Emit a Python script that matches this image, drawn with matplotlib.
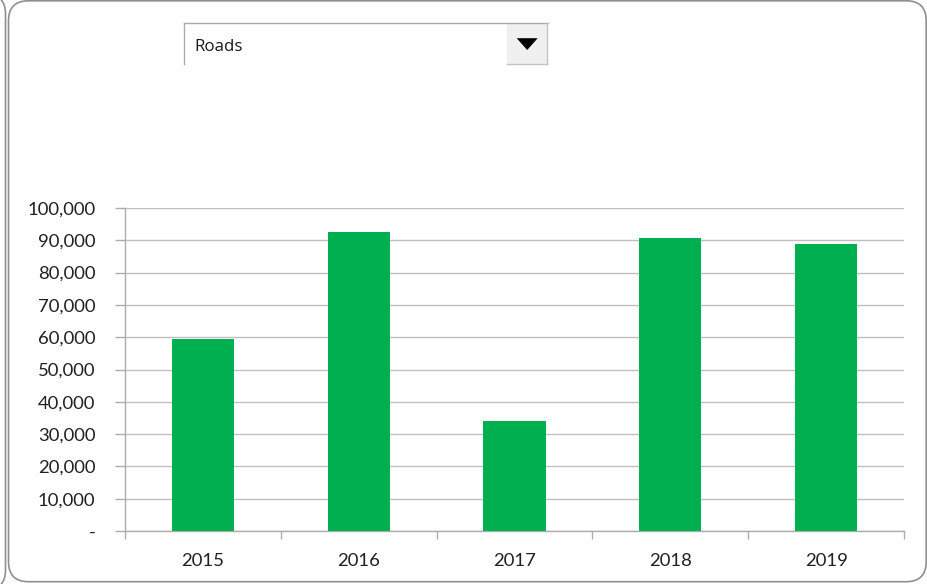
import matplotlib
matplotlib.use("Agg")
import matplotlib.pyplot as plt
from matplotlib.patches import FancyBboxPatch, Rectangle, Polygon
from matplotlib.ticker import FuncFormatter, FixedLocator, NullLocator

# Data
years = ["2015", "2016", "2017", "2018", "2019"]
values = [59500, 92700, 34000, 90800, 88800]
selected_category = "Roads"

W, H = 927, 584
fig = plt.figure(figsize=(W / 100, H / 100), dpi=100)
fig.patch.set_facecolor("white")

# Background layer in pixel coordinates for the frame and the dropdown control
bg = fig.add_axes([0, 0, 1, 1])
bg.set_xlim(0, W)
bg.set_ylim(H, 0)
bg.axis("off")

frame_col = "#8F8F8F"
# Edge of the neighbouring panel on the far left
bg.add_patch(FancyBboxPatch((-120, -6), 125.5, 596,
                            boxstyle="round,pad=0,rounding_size=20",
                            fill=False, ec=frame_col, lw=1.2))
# Main panel frame
bg.add_patch(FancyBboxPatch((8.5, 0.8), 917.7, 580.9,
                            boxstyle="round,pad=0,rounding_size=20",
                            fill=False, ec=frame_col, lw=1.2))

# Dropdown control
line_col = "#ABABAB"
bg.plot([184.5, 548], [22.5, 22.5], color=line_col, lw=1.0)
bg.plot([184.5, 184.5], [22.5, 63.5], color=line_col, lw=1.0)
bg.add_patch(Rectangle((507, 23), 40.5, 40.5, fc="#F0F0F0", ec="none"))
bg.plot([547.5, 547.5], [22.5, 63.5], color="#C4C4C4", lw=1.0)
bg.plot([507, 547.5], [63.5, 63.5], color="#C4C4C4", lw=1.0)
bg.add_patch(Polygon([(516.7, 38.2), (537.7, 38.2), (527.2, 50)],
                     closed=True, fc="black", ec="none"))
bg.text(194, 51, selected_category, fontsize=12.2, family="Open Sans",
        color="#1A1A1A", ha="left", va="baseline")

# Chart area
left, right, top, bottom = 125, 904, 208, 531
ax = fig.add_axes([left / W, (H - bottom) / H, (right - left) / W, (bottom - top) / H])
ax.set_facecolor("none")

x = list(range(len(years)))
ax.bar(x, values, width=0.4, color="#00B050", zorder=3)

ax.set_xlim(-0.5, len(years) - 0.5)
ax.set_ylim(0, 100000)

grid_col = "#BFBFBF"
axis_col = "#ADADAD"
text_col = "#202020"

ax.yaxis.set_major_locator(FixedLocator(list(range(0, 100001, 10000))))
ax.yaxis.set_major_formatter(FuncFormatter(lambda v, p: "-" if v == 0 else f"{int(v):,}"))
ax.grid(axis="y", color=grid_col, lw=1.0, zorder=0)

ax.xaxis.set_major_locator(FixedLocator([i - 0.5 for i in range(len(years) + 1)]))
ax.xaxis.set_major_formatter(FuncFormatter(lambda v, p: ""))
ax.xaxis.set_minor_locator(FixedLocator(x))
ax.xaxis.set_minor_formatter(FuncFormatter(lambda v, p: years[int(round(v))]))

for side in ["top", "right"]:
    ax.spines[side].set_visible(False)
for side in ["left", "bottom"]:
    ax.spines[side].set_color(axis_col)
    ax.spines[side].set_linewidth(1.0)

ax.tick_params(axis="y", which="major", direction="out", length=7, width=1.0,
               color=axis_col, pad=14.4, labelsize=13.3, labelcolor=text_col)
ax.tick_params(axis="x", which="major", direction="out", length=6, width=1.0,
               color=axis_col)
ax.tick_params(axis="x", which="minor", length=0, pad=15.5, labelsize=13.3,
               labelcolor=text_col)

for lab in ax.get_yticklabels() + ax.get_xticklabels(minor=True):
    lab.set_family("Lato")

fig.savefig("out.png", dpi=100, facecolor="white")
